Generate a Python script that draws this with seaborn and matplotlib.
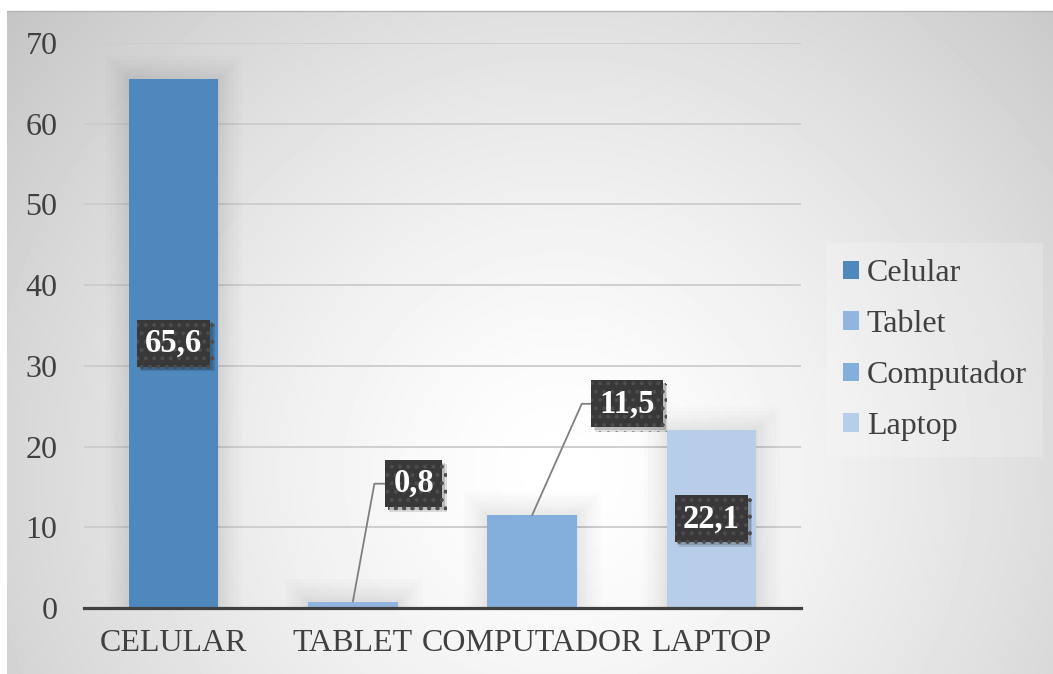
import numpy as np
import pandas as pd
import seaborn as sns
import matplotlib.pyplot as plt
from matplotlib.patches import Patch
from matplotlib import patheffects as pe

# datos del grafico
categorias = ["CELULAR", "TABLET", "COMPUTADOR", "LAPTOP"]
leyenda = ["Celular", "Tablet", "Computador", "Laptop"]
porcentajes = [65.6, 0.8, 11.5, 22.1]
etiquetas = ["65,6", "0,8", "11,5", "22,1"]
colores = ["#4f88bd", "#92b5df", "#84aedb", "#b8cde8"]

sns.set_theme(style="white")
plt.rcParams["font.family"] = ["Liberation Serif", "DejaVu Serif"]
plt.rcParams["hatch.linewidth"] = 1.6

W, H = 1053, 674
fig = plt.figure(figsize=(W / 100, H / 100), dpi=100)
fig.patch.set_facecolor("white")

# fondo con degradado radial (estilo Excel)
bg = fig.add_axes([7 / W, 0, 1 - 7 / W, 1 - 11 / H])
yy, xx = np.mgrid[0:663, 0:1046]
r = np.hypot(xx - 553, yy - 459) / np.hypot(553, 459)
grad = 1 - 0.23 * r ** 1.4
bg.imshow(grad, cmap="gray", vmin=0, vmax=1, aspect="auto",
          extent=(0, 1, 0, 1), interpolation="bilinear")
bg.set_axis_off()
fig.add_artist(plt.Line2D([7 / W, 1], [1 - 11 / H, 1 - 11 / H],
                          color="#b5b5b5", lw=1))

ax = fig.add_axes([84 / W, 1 - 608 / H, (801 - 84) / W, (608 - 43) / H])
ax.patch.set_alpha(0)

df = pd.DataFrame({"categoria": categorias, "valor": porcentajes})
sns.barplot(data=df, x="categoria", y="valor", hue="categoria",
            palette=colores, saturation=1, width=0.5, legend=False,
            linewidth=0, ax=ax, zorder=3)

# sombra difusa de las barras
glow = [pe.Stroke(linewidth=w, foreground="black", alpha=0.012)
        for w in (34, 28, 22, 17, 12, 8, 4)]
for p in ax.patches:
    p.set_edgecolor(p.get_facecolor())
    p.set_path_effects(glow + [pe.Normal()])

ax.set_xlim(-0.5, 3.5)
ax.set_ylim(0, 70)
ax.set_yticks(range(0, 80, 10))
ax.grid(axis="y", color="#cccccc", lw=1.3)
ax.set_axisbelow(True)
for s in ["left", "right", "top"]:
    ax.spines[s].set_visible(False)
ax.spines["bottom"].set_color("#404040")
ax.spines["bottom"].set_linewidth(2.3)
ax.spines["bottom"].set_zorder(5)

ax.set_xticks([-0.5, 0.5, 1.5, 2.5, 3.5])
ax.set_xticklabels([])
ax.set_xticks(range(len(categorias)), minor=True)
ax.set_xticklabels(categorias, minor=True)
ax.tick_params(axis="x", which="major", length=6, width=2.3,
               color="#404040", direction="out")
ax.tick_params(axis="x", which="minor", length=0, pad=15,
               labelsize=23, labelcolor="#404040")
ax.tick_params(axis="y", length=0, pad=19, labelsize=23,
               labelcolor="#404040")
ax.set_xlabel("")
ax.set_ylabel("")

# etiquetas de datos: dentro de la barra o fuera con linea guia
fuera = {1: (0.34, 15.4, 0.12), 2: (0.53, 25.3, 0.277)}
caja = dict(boxstyle="square,pad=0.25", fc="#383838", ec="#4d4d4d",
            lw=0, hatch="..")
for i, (v, txt) in enumerate(zip(porcentajes, etiquetas)):
    if i in fuera:
        dx, ty, lx = fuera[i]
        ax.plot([i, i + lx, i + dx - 0.15], [v, ty, ty], color="#7f7f7f",
                lw=1.3, zorder=4)
        x, y = i + dx, ty
    else:
        x, y = i, v / 2
    t = ax.text(x, y, txt, ha="center", va="center", fontsize=23.5,
                fontweight="bold", color="white", bbox=caja, zorder=6)
    t.get_bbox_patch().set_path_effects([
        pe.SimplePatchShadow(offset=(3, -3), shadow_rgbFace="black",
                             alpha=0.12),
        pe.SimplePatchShadow(offset=(2, -2), shadow_rgbFace="black",
                             alpha=0.15),
        pe.Normal(),
    ])

handles = [Patch(fc=c, ec="none") for c in colores]
fig.legend(handles, leyenda, loc="center left",
           bbox_to_anchor=(827 / W, 1 - 350 / H), borderaxespad=0,
           frameon=True, facecolor="white", framealpha=0.2,
           edgecolor="none", fancybox=False, fontsize=23,
           labelspacing=0.68, handlelength=0.5, handleheight=0.5,
           handletextpad=0.25, borderpad=0.5, labelcolor="#404040")

fig.savefig("out.png", dpi=100)
